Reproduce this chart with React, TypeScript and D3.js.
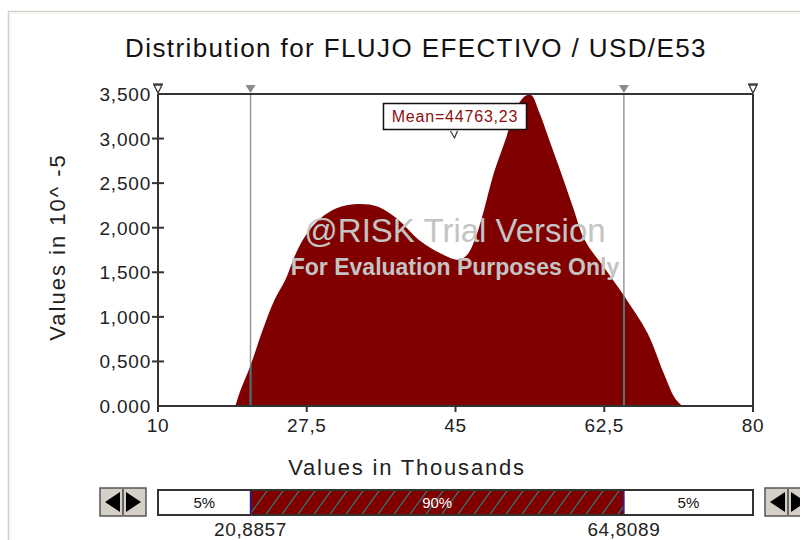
import * as d3 from 'd3'

// density curve (x in thousands, y in 10^-5)
const densityX = [19.1, 19.6, 20.9, 22.3, 23.7, 25.0, 25.6, 26.6, 28.5, 31.0, 33.4, 35.9, 38.3, 40.7, 43.2, 45.4, 46.4, 47.4, 48.3, 49.5, 51.0, 52.0, 53.2, 53.9, 54.9, 55.9, 57.3, 58.8, 60.2, 62.7, 64.9, 67.6, 69.5, 70.8, 71.7]
const densityY = [0, 150, 460, 850, 1190, 1420, 1563, 1787, 2049, 2217, 2266, 2236, 2087, 1862, 1713, 1640, 1700, 1900, 2180, 2610, 3021, 3320, 3478, 3490, 3283, 3021, 2647, 2236, 1862, 1526, 1226, 815, 366, 90, 0]

const yTicks = [0, 500, 1000, 1500, 2000, 2500, 3000, 3500]
const yTickLabels = ['0.000', '0,500', '1,000', '1,500', '2,000', '2,500', '3,000', '3,500']
const xTicks = [10, 27.5, 45, 62.5, 80]
const xTickLabels = ['10', '27,5', '45', '62,5', '80']

const leftCut = 20.8857
const rightCut = 64.8089
const cutLabels = ['20,8857', '64,8089']
const bandPercents = ['5%', '90%', '5%']
const meanValue = 44.76323
const meanLabel = 'Mean=44763,23'

const font = '"Liberation Sans", Arial, sans-serif'
const red = '#800000'

export default function App() {
  const x = d3.scaleLinear().domain([10, 80]).range([158, 753])
  const y = d3.scaleLinear().domain([0, 3500]).range([406, 94])
  const pts = densityX.map((v, i) => [v, densityY[i]] as [number, number])

  const area = d3
    .area<[number, number]>()
    .x(d => x(d[0]))
    .y0(y(0))
    .y1(d => y(d[1]))
    .curve(d3.curveCatmullRom)

  const top = y(3500)
  const base = y(0)
  const bandY = 490
  const bandH = 25
  const xs = [x(10), x(leftCut), x(rightCut), x(80)]
  const mx = x(meanValue)

  const markerFilled = (cx: number) => `M${cx - 5},${top - 9} L${cx + 5},${top - 9} L${cx},${top - 1} Z`

  return (
    <div style={{ position: 'absolute', left: 0, top: 0 }}>
      <svg width={800} height={540} style={{ display: 'block', background: '#fff' }}>
        <defs>
          <clipPath id="areaClip">
            <path d={area(pts) ?? ''} />
          </clipPath>
          <pattern id="hatch" patternUnits="userSpaceOnUse" width={16} height={22}>
            <rect width={16} height={22} fill={red} />
            <path d="M0,22 L16,0" stroke="#2e7c7c" strokeWidth={1.2} />
          </pattern>
        </defs>

        {/* outer frame */}
        <rect x={8.5} y={11.5} width={800} height={540} fill="none" stroke="#d4d0c8" strokeWidth={1.5} />
        <rect x={10} y={13} width={800} height={540} fill="none" stroke="#f4f2ec" strokeWidth={1} />

        {/* title */}
        <text x={416} y={57} textAnchor="middle" fontFamily={font} fontSize={26} letterSpacing={1.4} fill="#111">
          Distribution for FLUJO EFECTIVO / USD/E53
        </text>

        {/* density */}
        <path d={area(pts) ?? ''} fill={red} />

        {/* cut lines */}
        {[leftCut, rightCut].map(c => (
          <g key={c}>
            <line x1={x(c)} x2={x(c)} y1={top} y2={base} stroke="#9a9a9a" strokeWidth={1.5} />
            <line x1={x(c)} x2={x(c)} y1={top} y2={base} stroke="#2e8080" strokeWidth={1.5} clipPath="url(#areaClip)" />
            <path d={markerFilled(x(c))} fill="#8a8a8a" />
          </g>
        ))}

        {/* watermark */}
        <text x={455} y={242} textAnchor="middle" fontFamily={font} fontSize={33} fill="#c4c4c4">
          @RISK Trial Version
        </text>
        <text x={455} y={275} textAnchor="middle" fontFamily={font} fontSize={23} fontWeight="bold" fill="#c4c4c4">
          For Evaluation Purposes Only
        </text>

        {/* axes box */}
        <line x1={xs[0]} x2={xs[0]} y1={top} y2={base} stroke="#333" strokeWidth={2} />
        <line x1={xs[3]} x2={xs[3]} y1={top} y2={base} stroke="#333" strokeWidth={2} />
        <line x1={xs[0]} x2={xs[3]} y1={top} y2={top} stroke="#333" strokeWidth={2} />
        <line x1={xs[0]} x2={xs[3]} y1={base} y2={base} stroke="#333" strokeWidth={2} />

        {/* end markers */}
        {[10, 80].map(v => (
          <g key={v} fill="none" stroke="#333" strokeWidth={1.3}>
            <line x1={x(v) - 5} x2={x(v) + 5} y1={top - 10} y2={top - 10} />
            <path d={`M${x(v) - 4},${top - 9} L${x(v) + 4},${top - 9} L${x(v)},${top - 1} Z`} />
          </g>
        ))}

        {/* y ticks */}
        {yTicks.map((t, i) => (
          <g key={t}>
            {t > 0 && t < 3500 && (
              <line x1={xs[0] - 6} x2={xs[0] + 6} y1={y(t)} y2={y(t)} stroke="#333" strokeWidth={2} />
            )}
            <text x={151} y={y(t) + 7} textAnchor="end" fontFamily={font} fontSize={19} letterSpacing={0.8} fill="#222">
              {yTickLabels[i]}
            </text>
          </g>
        ))}

        {/* x ticks */}
        {xTicks.map((t, i) => (
          <g key={t}>
            <line x1={x(t)} x2={x(t)} y1={base} y2={base + 6} stroke="#333" strokeWidth={2} />
            <text x={x(t)} y={432} textAnchor="middle" fontFamily={font} fontSize={19} letterSpacing={0.6} fill="#222">
              {xTickLabels[i]}
            </text>
          </g>
        ))}

        {/* axis titles */}
        <text x={407} y={475} textAnchor="middle" fontFamily={font} fontSize={22} letterSpacing={1.8} fill="#222">
          Values in Thousands
        </text>
        <text transform="translate(65,247) rotate(-90)" textAnchor="middle" fontFamily={font} fontSize={22} letterSpacing={2} fill="#222">
          Values in 10^ -5
        </text>

        {/* mean callout */}
        <rect x={mx - 70} y={103.5} width={143} height={26} fill="#fff" stroke="#111" strokeWidth={1.5} />
        <text x={mx + 1.5} y={122} textAnchor="middle" fontFamily={font} fontSize={16} letterSpacing={0.8} fill="#8b1010">
          {meanLabel}
        </text>
        <path d={`M${mx - 3},${131} L${mx + 1},${138} L${mx + 4},${131}`} fill="none" stroke="#333" strokeWidth={1.2} />

        {/* percentile band */}
        <rect x={xs[0]} y={bandY} width={xs[1] - xs[0]} height={bandH} fill="#fff" />
        <rect x={xs[1]} y={bandY} width={xs[2] - xs[1]} height={bandH} fill="url(#hatch)" />
        <rect x={xs[2]} y={bandY} width={xs[3] - xs[2]} height={bandH} fill="#fff" />
        <rect x={xs[0]} y={bandY} width={xs[3] - xs[0]} height={bandH} fill="none" stroke="#333" strokeWidth={2} />
        <line x1={xs[1]} x2={xs[1]} y1={bandY + 1} y2={bandY + bandH - 1} stroke="#1a1ab0" strokeWidth={1.5} />
        <line x1={xs[2]} x2={xs[2]} y1={bandY + 1} y2={bandY + bandH - 1} stroke="#1a1ab0" strokeWidth={1.5} />
        {bandPercents.map((p, i) => (
          <text
            key={i}
            x={(xs[i] + xs[i + 1]) / 2}
            y={bandY + 18}
            textAnchor="middle"
            fontFamily={font}
            fontSize={15}
            fill={i === 1 ? '#fff' : '#111'}
          >
            {p}
          </text>
        ))}
        {cutLabels.map((l, i) => (
          <text key={l} x={xs[i + 1]} y={536} textAnchor="middle" fontFamily={font} fontSize={19} letterSpacing={0.6} fill="#222">
            {l}
          </text>
        ))}

        {/* scroll buttons */}
        {[100, 765].map(bx => (
          <g key={bx}>
            <rect x={bx} y={488} width={46} height={28} fill="#d4d0c8" stroke="#555" strokeWidth={1.5} />
            <line x1={bx + 23} x2={bx + 23} y1={489} y2={515} stroke="#444" strokeWidth={1.5} />
            <path d={`M${bx + 5},502 L${bx + 20},492 L${bx + 20},512 Z`} fill="#000" />
            <path d={`M${bx + 41},502 L${bx + 26},492 L${bx + 26},512 Z`} fill="#000" />
          </g>
        ))}
      </svg>
    </div>
  )
}
